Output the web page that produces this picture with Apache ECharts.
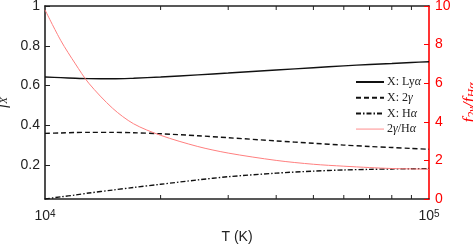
<!DOCTYPE html>
<html>
<head>
<meta charset="utf-8">
<script src="https://cdn.jsdelivr.net/npm/echarts@6/dist/echarts.min.js"></script>
<style>html,body{margin:0;padding:0;background:#fff}#c{width:473px;height:245px}</style>
</head>
<body>
<div id="c"></div>
<script>
var temps = [10000, 11000, 12000, 13000, 15000, 17000, 20000, 25000, 30000, 40000, 50000, 60000, 70000, 80000, 90000, 100000];
var fLya = [0.643, 0.640, 0.637, 0.635, 0.634, 0.637, 0.643, 0.654, 0.663, 0.678, 0.690, 0.699, 0.706, 0.711, 0.716, 0.720];
var f2g  = [0.360, 0.362, 0.364, 0.365, 0.365, 0.363, 0.358, 0.348, 0.338, 0.322, 0.310, 0.301, 0.294, 0.289, 0.284, 0.280];
var fHa  = [0.030, 0.041, 0.050, 0.060, 0.075, 0.088, 0.104, 0.126, 0.142, 0.160, 0.170, 0.176, 0.179, 0.181, 0.182, 0.183];
var ratio = [9.8, 8.2, 7.0, 6.0, 4.7, 3.9, 3.3, 2.72, 2.38, 2.0, 1.8, 1.7, 1.63, 1.58, 1.56, 1.54];
var xMinorTicks = [20000, 30000, 40000, 50000, 60000, 70000, 80000, 90000];
var leftTicks = [0.2, 0.4, 0.6, 0.8, 1];
var seriesNames = ['X: Ly\u03b1', 'X: 2\u03b3', 'X: H\u03b1', '2\u03b3/H\u03b1'];
var yMin = 0.03, yMax = 1;

function pairs(ys) { return temps.map(function (t, i) { return [t, ys[i]]; }); }

var sans = 'Liberation Sans, Arial, sans-serif';
var serif = 'Liberation Serif, Times New Roman, serif';
var chart = echarts.init(document.getElementById('c'));

var legendRich = {
  n: { fontFamily: serif, fontSize: 12, color: '#222' },
  i: { fontFamily: serif, fontSize: 12, fontStyle: 'italic', color: '#222' }
};
function legendFmt(name) {
  var parts = name.split(/([\u03b1\u03b3])/);
  return parts.filter(function (p) { return p.length; }).map(function (p) {
    return /[\u03b1\u03b3]/.test(p) ? '{i|' + p + '}' : '{n|' + p + '}';
  }).join('');
}

function tickRender(params, api) {
  var t = api.value(0);
  var b = api.coord([t, yMin]);
  var tp = api.coord([t, yMax]);
  return {
    type: 'group',
    children: [
      { type: 'line', shape: { x1: b[0], y1: b[1], x2: b[0], y2: b[1] - 4 }, style: { stroke: '#222', lineWidth: 1 } },
      { type: 'line', shape: { x1: tp[0], y1: tp[1], x2: tp[0], y2: tp[1] + 4 }, style: { stroke: '#222', lineWidth: 1 } }
    ]
  };
}

chart.setOption({
  animation: false,
  grid: { left: 45, right: 44, top: 6, bottom: 46, containLabel: false, outerBoundsMode: 'none' },
  legend: {
    orient: 'vertical', left: 350, top: 71,
    itemWidth: 28, itemHeight: 10, itemGap: 3.7,
    data: [
      { name: seriesNames[0] },
      { name: seriesNames[1] },
      { name: seriesNames[2] },
      { name: seriesNames[3], lineStyle: { color: '#ffb3b3', width: 1.5 } }
    ],
    formatter: legendFmt,
    itemStyle: { opacity: 0 },
    textStyle: { fontFamily: serif, fontSize: 12, color: '#222', lineHeight: 12, rich: legendRich, padding: [0, 0, 0, -2] }
  },
  xAxis: [{
    type: 'log', logBase: 10, min: 10000, max: 100000, position: 'bottom',
    name: 'T (K)', nameLocation: 'middle', nameGap: 31,
    nameTextStyle: { fontFamily: sans, fontSize: 14, color: '#222' },
    axisLine: { lineStyle: { color: '#222', width: 1.6 } },
    axisTick: { show: false },
    axisLabel: {
      margin: 10, fontFamily: sans, fontSize: 14, color: '#222',
      formatter: function (v) { return '{b|10}{s|' + Math.round(Math.log10(v)) + '}'; },
      rich: { b: { fontFamily: sans, fontSize: 14, color: '#222' }, s: { fontFamily: sans, fontSize: 10, color: '#222', verticalAlign: 'top', lineHeight: 14 } }
    },
    splitLine: { show: false }
  }, {
    type: 'log', logBase: 10, min: 10000, max: 100000, position: 'top',
    axisLine: { lineStyle: { color: '#222', width: 1.6 } },
    axisTick: { show: false },
    axisLabel: { show: false },
    splitLine: { show: false }
  }],
  yAxis: [{
    type: 'value', min: yMin, max: yMax, position: 'left',
    name: '{f|f}{s|X}', nameLocation: 'middle', nameGap: 25, nameRotate: 90,
    nameTextStyle: { rich: { f: { fontFamily: serif, fontStyle: 'italic', fontSize: 16, color: '#222' }, s: { fontFamily: serif, fontStyle: 'italic', fontSize: 11, color: '#222', verticalAlign: 'bottom', lineHeight: 16 } } },
    axisLine: { show: true, lineStyle: { color: '#222', width: 1.6 } },
    axisTick: { show: true, inside: true, length: 5, customValues: leftTicks, lineStyle: { color: '#222', width: 1 } },
    axisLabel: { customValues: leftTicks, margin: 5, fontFamily: sans, fontSize: 14, color: '#222' },
    splitLine: { show: false }
  }, {
    type: 'value', min: 0, max: 10, interval: 2, position: 'right',
    name: '{f|f}{s|2\u03b3}{f|/f}{s|H\u03b1}', nameLocation: 'middle', nameGap: 18, nameRotate: 90,
    nameTextStyle: { rich: { f: { fontFamily: serif, fontStyle: 'italic', fontSize: 17, color: '#ff0000' }, s: { fontFamily: serif, fontStyle: 'italic', fontSize: 12, color: '#ff0000', verticalAlign: 'bottom', lineHeight: 17 } } },
    axisLine: { show: true, lineStyle: { color: '#ff0000', width: 1.6 } },
    axisTick: { show: true, inside: true, length: 5, lineStyle: { color: '#ff0000', width: 1 } },
    axisLabel: { margin: 6, fontFamily: sans, fontSize: 14, color: '#ff0000' },
    splitLine: { show: false }
  }],
  series: [
    { name: seriesNames[0], type: 'line', xAxisIndex: 0, yAxisIndex: 0, data: pairs(fLya), smooth: 0.3, showSymbol: false, symbol: 'none', symbolSize: 0, lineStyle: { color: '#111', width: 1.4 }, itemStyle: { color: '#111' } },
    { name: seriesNames[1], type: 'line', xAxisIndex: 0, yAxisIndex: 0, data: pairs(f2g), smooth: 0.3, showSymbol: false, symbol: 'none', symbolSize: 0, lineStyle: { color: '#111', width: 1.4, type: [5, 3] }, itemStyle: { color: '#111' } },
    { name: seriesNames[2], type: 'line', xAxisIndex: 0, yAxisIndex: 0, data: pairs(fHa), smooth: 0.3, showSymbol: false, symbol: 'none', symbolSize: 0, lineStyle: { color: '#111', width: 1.4, type: [5, 2, 1.5, 2] }, itemStyle: { color: '#111' } },
    { name: seriesNames[3], type: 'line', xAxisIndex: 0, yAxisIndex: 1, data: pairs(ratio), smooth: 0.3, showSymbol: false, symbol: 'none', symbolSize: 0, lineStyle: { color: '#ff7f7f', width: 1 }, itemStyle: { color: '#ffb0b0' } },
    { name: 'xticks', type: 'custom', xAxisIndex: 0, yAxisIndex: 0, data: xMinorTicks.map(function (t) { return [t]; }), renderItem: tickRender, silent: true, clip: false, encode: { x: 0 } }
  ]
});
</script>
</body>
</html>
